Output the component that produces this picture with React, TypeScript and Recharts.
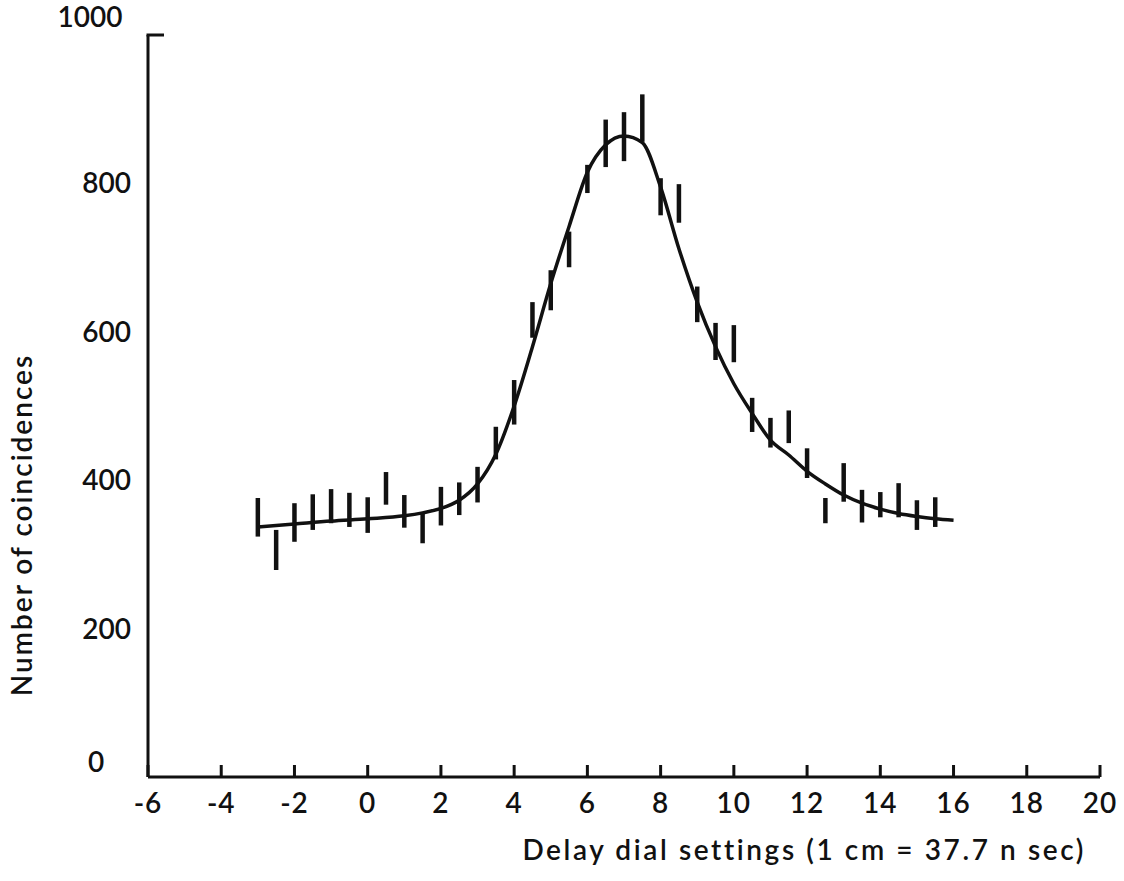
import {
  ComposedChart,
  ErrorBar,
  Label,
  Line,
  Scatter,
  XAxis,
  YAxis,
} from "recharts";

// measured coincidence counts at each delay dial setting
const delaySettings = [
  -3, -2.5, -2, -1.5, -1, -0.5, 0, 0.5, 1, 1.5, 2, 2.5, 3, 3.5, 4, 4.5, 5,
  5.5, 6, 6.5, 7, 7.5, 8, 8.5, 9, 9.5, 10, 10.5, 11, 11.5, 12, 12.5, 13, 13.5,
  14, 14.5, 15, 15.5,
];
const counts = [
  350, 306, 343, 357, 365, 360, 353, 389, 358, 336, 365, 375, 394, 450, 505,
  616, 656, 711, 806, 854, 863, 888, 782, 773, 637, 587, 584, 488, 464, 472,
  423, 359, 397, 365, 367, 373, 353, 357,
];
const countErrors = [
  26, 27, 26, 24, 23, 23, 24, 22, 22, 21, 26, 22, 24, 22, 30, 24, 27, 24, 19,
  32, 33, 32, 25, 26, 24, 25, 25, 23, 20, 22, 20, 17, 26, 22, 17, 23, 20, 20,
];

// hand-drawn fit through the points
const fitDelay = [
  -3, -2, -1, 0, 1, 1.5, 2, 2.5, 3, 3.5, 4, 4.5, 5, 5.5, 6, 6.5, 7, 7.5, 8,
  8.5, 9, 9.5, 10, 10.5, 11, 11.5, 12, 12.5, 13, 13.5, 14, 14.5, 15, 15.5, 16,
];
const fitCounts = [
  337, 341, 345, 348, 352, 356, 362, 373, 395, 435, 500, 580, 665, 742, 815,
  852, 864, 855, 795, 712, 640, 580, 530, 490, 454, 434, 412, 395, 380, 369,
  361, 355, 351, 348, 346,
];

const xTicks = [-6, -4, -2, 0, 2, 4, 6, 8, 10, 12, 14, 16, 18, 20];
const yTicks = [0, 200, 400, 600, 800, 1000];

const points = delaySettings.map((x, i) => ({
  x,
  y: counts[i],
  err: countErrors[i],
}));
const fit = fitDelay.map((x, i) => ({ x, y: fitCounts[i] }));

const ink = "#111";
const font = "Lato, 'Open Sans', sans-serif";
const textStyle = {
  fill: ink,
  fontSize: 28,
  fontFamily: font,
  fontWeight: 600,
};

function XTick(props: any) {
  const { x, y, payload } = props;
  return (
    <g>
      <line x1={x} y1={y} x2={x} y2={y - 12} stroke={ink} strokeWidth={3} />
      <text x={x} y={y + 36} textAnchor="middle" {...textStyle} letterSpacing={1}>
        {payload.value}
      </text>
    </g>
  );
}

function YTick(props: any) {
  const { x, y, payload } = props;
  const v = payload.value;
  if (v === 1000) {
    return (
      <g>
        <line x1={x - 1.5} y1={y} x2={x + 16} y2={y} stroke={ink} strokeWidth={3} />
        <text x={x - 58} y={y - 8} textAnchor="middle" {...textStyle}>
          {v}
        </text>
      </g>
    );
  }
  if (v === 0) {
    return (
      <text x={x - 52} y={y - 5} textAnchor="middle" {...textStyle}>
        {v}
      </text>
    );
  }
  return (
    <text x={x - 17} y={y + 10} textAnchor="end" {...textStyle}>
      {v}
    </text>
  );
}

export default function App() {
  return (
    <div style={{ position: "absolute", left: 0, top: 0, background: "#fff" }}>
      <ComposedChart
        width={1124}
        height={881}
        margin={{ top: 35, right: 24, bottom: 0, left: 0 }}
      >
        <XAxis
          dataKey="x"
          type="number"
          domain={[-6, 20]}
          ticks={xTicks}
          height={104}
          tickSize={0}
          tickMargin={0}
          tickLine={false}
          tick={XTick}
          axisLine={{ stroke: ink, strokeWidth: 3 }}
          allowDataOverflow
        >
          <Label
            content={({ viewBox }: any) => (
              <text
                x={viewBox.x + viewBox.width - 14}
                y={viewBox.y + 83}
                textAnchor="end"
                {...textStyle}
                letterSpacing={2.6}
              >
                Delay dial settings (1 cm = 37.7 n sec)
              </text>
            )}
          />
        </XAxis>
        <YAxis
          dataKey="y"
          type="number"
          domain={[0, 1000]}
          ticks={yTicks}
          width={148}
          tickSize={0}
          tickMargin={0}
          tickLine={false}
          tick={YTick}
          axisLine={{ stroke: ink, strokeWidth: 3 }}
        >
          <Label
            content={({ viewBox }: any) => {
              const cx = viewBox.x + 22;
              const cy = viewBox.y + 490;
              return (
                <text
                  x={cx}
                  y={cy}
                  dy="0.35em"
                  transform={`rotate(-90 ${cx} ${cy})`}
                  textAnchor="middle"
                  {...textStyle}
                  letterSpacing={2}
                >
                  Number of coincidences
                </text>
              );
            }}
          />
        </YAxis>
        <Line
          data={fit}
          dataKey="y"
          type="monotone"
          stroke={ink}
          strokeWidth={3.5}
          dot={false}
          activeDot={false}
          isAnimationActive={false}
        />
        <Scatter
          data={points}
          dataKey="y"
          shape={() => <g />}
          isAnimationActive={false}
        >
          <ErrorBar
            dataKey="err"
            direction="y"
            width={0}
            stroke={ink}
            strokeWidth={4.5}
            isAnimationActive={false}
          />
        </Scatter>
      </ComposedChart>
    </div>
  );
}
